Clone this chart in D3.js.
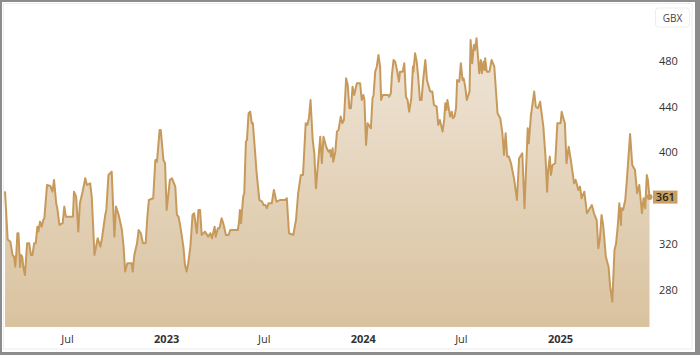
<!DOCTYPE html>
<html><head><meta charset="utf-8">
<script src="https://cdn.jsdelivr.net/npm/d3@7"></script>
<style>
html,body{margin:0;padding:0;background:#8c8c8c;}
svg{display:block;font-family:"Open Sans","Noto Sans",sans-serif;}
</style></head>
<body><svg id="chart" width="700" height="355"></svg>
<script>
const dates = ["2022-03-08","2022-03-13","2022-03-18","2022-03-22","2022-03-25","2022-03-27","2022-03-29","2022-03-31","2022-04-02","2022-04-05","2022-04-07","2022-04-09","2022-04-11","2022-04-14","2022-04-18","2022-04-22","2022-04-25","2022-04-28","2022-05-01","2022-05-04","2022-05-07","2022-05-09","2022-05-12","2022-05-15","2022-05-18","2022-05-20","2022-05-25","2022-05-31","2022-06-04","2022-06-07","2022-06-11","2022-06-13","2022-06-17","2022-06-23","2022-06-26","2022-06-29","2022-07-12","2022-07-14","2022-07-18","2022-07-22","2022-07-25","2022-07-30","2022-08-04","2022-08-07","2022-08-13","2022-08-16","2022-08-21","2022-08-27","2022-09-01","2022-09-04","2022-09-10","2022-09-12","2022-09-16","2022-09-22","2022-09-27","2022-09-30","2022-10-05","2022-10-11","2022-10-14","2022-10-17","2022-10-21","2022-10-29","2022-10-31","2022-11-03","2022-11-08","2022-11-11","2022-11-15","2022-11-19","2022-11-24","2022-11-27","2022-11-30","2022-12-08","2022-12-12","2022-12-15","2022-12-20","2022-12-22","2022-12-27","2022-12-30","2023-01-02","2023-01-08","2023-01-12","2023-01-18","2023-01-21","2023-01-24","2023-01-27","2023-02-02","2023-02-05","2023-02-08","2023-02-11","2023-02-15","2023-02-19","2023-02-22","2023-02-27","2023-03-02","2023-03-05","2023-03-08","2023-03-14","2023-03-20","2023-03-24","2023-03-27","2023-04-01","2023-04-03","2023-04-07","2023-04-10","2023-04-14","2023-04-17","2023-04-22","2023-04-27","2023-04-30","2023-05-14","2023-05-16","2023-05-18","2023-05-20","2023-05-24","2023-05-26","2023-05-29","2023-05-31","2023-06-03","2023-06-06","2023-06-09","2023-06-11","2023-06-15","2023-06-18","2023-06-23","2023-06-28","2023-07-01","2023-07-04","2023-07-07","2023-07-10","2023-07-16","2023-07-20","2023-07-24","2023-07-25","2023-08-01","2023-08-10","2023-08-13","2023-08-17","2023-08-25","2023-08-30","2023-09-03","2023-09-08","2023-09-12","2023-09-17","2023-09-20","2023-09-23","2023-09-26","2023-09-30","2023-10-03","2023-10-06","2023-10-11","2023-10-14","2023-10-17","2023-10-20","2023-10-25","2023-10-29","2023-11-01","2023-11-03","2023-11-06","2023-11-07","2023-11-11","2023-11-14","2023-11-17","2023-11-21","2023-11-24","2023-11-27","2023-12-01","2023-12-04","2023-12-07","2023-12-10","2023-12-13","2023-12-16","2023-12-21","2023-12-27","2023-12-30","2024-01-02","2024-01-04","2024-01-07","2024-01-10","2024-01-14","2024-01-16","2024-01-19","2024-01-21","2024-01-24","2024-01-27","2024-01-30","2024-02-02","2024-02-04","2024-02-07","2024-02-17","2024-02-19","2024-02-22","2024-02-24","2024-02-27","2024-03-01","2024-03-05","2024-03-08","2024-03-10","2024-03-15","2024-03-18","2024-03-21","2024-03-24","2024-03-27","2024-03-31","2024-04-03","2024-04-04","2024-04-07","2024-04-10","2024-04-13","2024-04-16","2024-04-19","2024-04-22","2024-04-26","2024-04-29","2024-05-05","2024-05-09","2024-05-12","2024-05-17","2024-05-20","2024-05-23","2024-05-28","2024-05-31","2024-06-02","2024-06-04","2024-06-06","2024-06-11","2024-06-14","2024-06-16","2024-06-19","2024-06-22","2024-06-24","2024-06-28","2024-07-01","2024-07-04","2024-07-06","2024-07-09","2024-07-12","2024-07-15","2024-07-17","2024-07-19","2024-07-22","2024-07-25","2024-07-27","2024-07-30","2024-08-02","2024-08-04","2024-08-07","2024-08-09","2024-08-12","2024-08-14","2024-08-15","2024-08-18","2024-08-23","2024-08-27","2024-09-01","2024-09-04","2024-09-07","2024-09-12","2024-09-16","2024-09-19","2024-09-22","2024-09-25","2024-09-28","2024-10-02","2024-10-08","2024-10-13","2024-10-17","2024-10-23","2024-10-27","2024-11-02","2024-11-04","2024-11-08","2024-11-09","2024-11-14","2024-11-17","2024-11-21","2024-11-25","2024-12-01","2024-12-05","2024-12-08","2024-12-10","2024-12-13","2024-12-15","2024-12-18","2024-12-23","2024-12-27","2025-01-02","2025-01-04","2025-01-08","2025-01-10","2025-01-13","2025-01-17","2025-01-21","2025-01-27","2025-01-30","2025-02-04","2025-02-07","2025-02-10","2025-02-15","2025-02-20","2025-03-01","2025-03-05","2025-03-10","2025-03-13","2025-03-16","2025-03-19","2025-03-22","2025-03-27","2025-04-01","2025-04-04","2025-04-08","2025-04-12","2025-04-15","2025-04-18","2025-04-21","2025-04-24","2025-04-25","2025-04-28","2025-05-02","2025-05-05","2025-05-11","2025-05-15","2025-05-20","2025-05-24","2025-05-28","2025-06-02","2025-06-05","2025-06-08","2025-06-11","2025-06-13","2025-06-16"];
const prices = [366,324,322,310.5,309,300.3,312,329.5,329.5,300,310.5,309,300,293,320.7,320.7,310.5,310.5,320.7,320.7,335.2,330.9,339.6,335.2,341,342.5,371.6,370.7,365.7,376,355.6,351.3,336.7,338.2,352.7,343.9,343.9,365.7,361.4,330.9,355.6,365.7,377.4,371.6,373,361.4,310.5,325.1,317.8,325.1,345.4,349.8,380.3,383.2,326.5,352.7,345.4,332.3,317.8,296,303.3,303.3,296,310.5,320.7,332.3,329.5,320.7,320.7,342.5,358.5,360,393.4,391.9,419.6,419.6,393.4,390.5,349.8,376,377.4,370.1,345.4,343.9,336.7,317.8,301.8,296,303.3,317.8,345.4,346.9,329.5,349.8,349.8,328,330.9,326.5,329.5,325.1,335.2,326.5,333.8,333.8,342.5,338.2,328,328,332.3,332.3,338.2,349.8,338.2,361.4,364.3,409.3,410.8,434.1,435.5,425.4,425.4,400.6,381.8,358.5,357,354.1,354.1,351.3,355.6,355.6,367.2,358.5,357,358.5,358.5,360,329.5,328,341,364.3,380.3,380.3,425.4,423.9,429.8,445.7,410.8,399.2,368.7,396.3,413.7,390.5,413.7,405,400.6,402.1,396.3,403.6,391.9,400.6,418.1,419.6,431.2,425.4,428.3,464.6,458.8,438.5,438.5,457.3,450.1,460.3,460.3,445.7,450.1,445.7,406.5,425.4,422.4,421,447.2,450.1,470.4,474.8,485,474.8,445.7,450.1,450.1,448.6,451.6,467.5,480.6,479.1,470.4,461.7,470.4,470.4,477.7,448.6,445.7,435.5,447.2,474.8,470.4,486.5,479.1,464.6,445.7,445.7,463.2,480.6,463.2,453,453,441.4,439.9,423.9,428.3,418.1,428.3,442.8,437,445.7,431.2,435.5,429.8,431.2,438.5,463.2,461.7,477.7,463.2,464.6,457.3,445.7,450.1,453,498,477.7,493.7,489.3,499.5,482.1,469,480.6,469,479.1,471.9,482.1,470.4,470.4,480.6,474.8,454.4,434.1,429.8,416.7,397.8,416.7,396.3,396.3,390.5,376,358.5,394.9,399.2,351.3,421,408,432.6,435.5,453,439.9,438.5,444.2,422.4,396.3,365.7,384.7,396.3,380.3,389,390.5,425.4,425.4,435.5,428.3,425.4,390.5,405,393.4,373,376,367.2,370.1,360,365.7,346.9,354.1,346.9,341,316.4,325.1,345.4,336.7,309,300.3,282.9,269.8,314.9,320.7,335.2,355.6,336.7,351.3,349.8,358.5,376,416.1,389,384.7,364.3,371.6,346.9,360,351.3,380.3,376,361];
const yTicks = [280,320,400,440,480];
const xTicks = [["2022-07-01","Jul"],["2023-01-01","2023"],["2023-07-01","Jul"],["2024-01-01","2024"],["2024-07-01","Jul"],["2025-01-01","2025"]];
const currency = "GBX";
const yMin = 247.7, yMax = 532.9;

const parse = d3.timeParse("%Y-%m-%d");
const data = dates.map((d,i)=>({date:parse(d), value:prices[i]}));
const svg = d3.select("#chart");

// card
svg.append("rect").attr("x",0).attr("y",0).attr("width",695).attr("height",352).attr("fill","#fff");
svg.append("rect").attr("x",0).attr("y",0).attr("width",2).attr("height",355).attr("fill","#8c8c8c");
svg.append("rect").attr("x",0).attr("y",0).attr("width",700).attr("height",2).attr("fill","#8c8c8c");
svg.append("rect").attr("x",3.5).attr("y",3.5).attr("width",688.5).attr("height",345.5)
  .attr("fill","none").attr("stroke","#ececec").attr("stroke-width",1);

const x = d3.scaleTime().domain(d3.extent(data,d=>d.date)).range([5,649.5]);
const y = d3.scaleLinear().domain([yMin,yMax]).range([327,0]);

const defs = svg.append("defs");
const grad = defs.append("linearGradient").attr("id","fillg")
  .attr("gradientUnits","userSpaceOnUse").attr("x1",0).attr("y1",40).attr("x2",0).attr("y2",327);
grad.append("stop").attr("offset","0%").attr("stop-color","#efe5d8");
grad.append("stop").attr("offset","100%").attr("stop-color","#d9c29e");

const area = d3.area().x(d=>x(d.date)).y0(y(yMin)).y1(d=>y(d.value));
const line = d3.line().x(d=>x(d.date)).y(d=>y(d.value));

svg.append("path").datum(data).attr("d",area).attr("fill","url(#fillg)");
svg.append("path").datum(data).attr("d",line).attr("fill","none")
  .attr("stroke","#c79a5b").attr("stroke-width",2).attr("stroke-linejoin","round");

// y axis labels
const yAxis = d3.axisRight(y).tickValues(yTicks).tickSize(0).tickPadding(0);
const ya = svg.append("g").attr("transform","translate(659,0)").call(yAxis);
ya.select(".domain").remove();
ya.selectAll("text").attr("font-size",11).attr("fill","#333").attr("font-family","'Open Sans',sans-serif");

// x axis labels
const xAxis = d3.axisBottom(x).tickValues(xTicks.map(t=>parse(t[0])))
  .tickFormat((d,i)=>xTicks[i][1]).tickSize(0).tickPadding(0);
const xa = svg.append("g").attr("transform","translate(0,335)").call(xAxis);
xa.select(".domain").remove();
xa.selectAll("text").attr("font-size",11).attr("fill","#333").attr("font-family","'Open Sans',sans-serif")
  .attr("font-weight",(d,i)=>/^\d{4}$/.test(xTicks[i][1])?700:400);

// currency box
svg.append("rect").attr("x",655.5).attr("y",8).attr("width",34).attr("height",19).attr("rx",3)
  .attr("fill","#fff").attr("stroke","#eeeeee");
svg.append("text").attr("x",672.5).attr("y",21.5).attr("text-anchor","middle")
  .attr("font-size",10).attr("fill","#444").text(currency);

// last value
const last = data[data.length-1];
svg.append("circle").attr("cx",x(last.date)).attr("cy",y(last.value)).attr("r",3).attr("fill","#c79a5b");
svg.append("rect").attr("x",653).attr("y",y(last.value)-6.5).attr("width",24.5).attr("height",13).attr("fill","#c9a064");
svg.append("text").attr("x",665.3).attr("y",y(last.value)+4).attr("text-anchor","middle")
  .attr("font-size",11).attr("font-weight",600).attr("fill","#222").text(Math.round(last.value));
</script></body></html>
